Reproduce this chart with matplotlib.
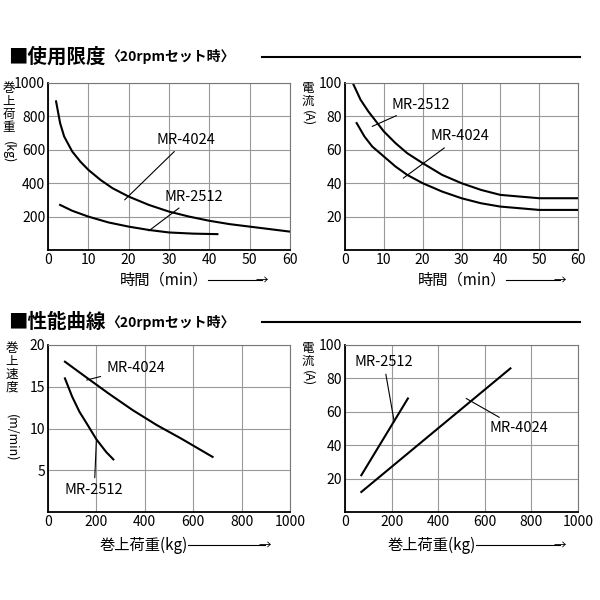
import matplotlib.pyplot as plt

plt.rcParams["font.family"] = "Noto Sans CJK JP"

# data
t4024 = [2, 3, 4, 6, 8, 10, 13, 16, 20, 25, 30, 35, 40, 45, 50, 55, 60]
w4024 = [890, 760, 680, 590, 530, 480, 420, 370, 320, 270, 230, 200, 175,
         155, 140, 125, 110]
t2512 = [3, 6, 10, 15, 20, 25, 30, 36, 42]
w2512 = [270, 235, 200, 165, 140, 120, 105, 98, 95]

ti2512 = [2, 4, 6, 8, 10, 13, 16, 20, 25, 30, 35, 40, 45, 50, 55, 60]
a2512 = [100, 90, 83, 77, 71, 64, 58, 52, 45, 40, 36, 33, 32, 31, 31, 31]
ti4024 = [3, 5, 7, 10, 13, 16, 20, 25, 30, 35, 40, 45, 50, 55, 60]
a4024 = [76, 68, 62, 56, 50, 45, 40, 35, 31, 28, 26, 25, 24, 24, 24]

l4024 = [70, 150, 250, 350, 450, 550, 680]
v4024 = [18, 16.3, 14.2, 12.2, 10.4, 8.8, 6.6]
l2512 = [70, 100, 130, 160, 200, 240, 270]
v2512 = [16, 13.8, 12, 10.6, 8.7, 7.2, 6.3]

la2512 = [70, 270]
c2512 = [22, 68]
la4024 = [70, 710]
c4024 = [12, 86]

W = H = 600
fig = plt.figure(figsize=(6, 6), dpi=100)


def mkax(x0, x1, y0, y1, xlim, ylim, xt, yt):
    ax = fig.add_axes([x0 / W, 1 - y1 / H, (x1 - x0) / W, (y1 - y0) / H])
    ax.set_xlim(*xlim)
    ax.set_ylim(*ylim)
    ax.set_xticks(xt)
    ax.set_yticks(yt)
    ax.grid(True, color="#999999", lw=0.8)
    ax.tick_params(length=0, labelsize=10, pad=2)
    for s in ax.spines.values():
        s.set_color("#777777")
    ax.spines["left"].set_color("black")
    ax.spines["bottom"].set_color("black")
    ax.spines["left"].set_linewidth(1.3)
    ax.spines["bottom"].set_linewidth(1.3)
    return ax


def label(ax, txt, xy, xyt, ha="left"):
    ax.annotate(txt, xy=xy, xytext=xyt, fontsize=10.5, ha=ha, va="center",
                arrowprops=dict(arrowstyle="-", color="black", lw=0.8,
                                shrinkA=2, shrinkB=0))


def vlabel(x, y, txt, unit, uy):
    fig.text(x / W, 1 - y / H, "\n".join(txt), fontsize=9, ha="center",
             va="top", linespacing=1.0)
    fig.text(x / W, 1 - uy / H, unit, fontsize=9, rotation=-90,
             ha="center", va="center")


def xlabel(x, y, txt, x_end):
    fig.text(x / W, 1 - y / H, txt, fontsize=11, ha="left", va="center")
    fig.add_artist(plt.Line2D([(x + 88) / W, x_end / W], [1 - y / H] * 2,
                              color="black", lw=0.8))
    fig.text(x_end / W, 1 - y / H, "→", fontsize=9, ha="center", va="center")


def title(y, txt):
    fig.text(8 / W, 1 - y / H, "■" + txt, fontsize=14, fontweight="bold",
             ha="left", va="center")
    fig.text(106 / W, 1 - y / H, "〈20rpmセット時〉", fontsize=10,
             fontweight="bold", ha="left", va="center")
    fig.add_artist(plt.Line2D([262 / W, 580 / W], [1 - y / H] * 2,
                              color="black", lw=1.5))


title(57, "使用限度")
title(322, "性能曲線")

ax1 = mkax(48, 290, 83, 250, (0, 60), (0, 1000), range(0, 61, 10),
           range(0, 1001, 200))
ax1.set_yticklabels(["", "200", "400", "600", "800", "1000"])
ax1.plot(t4024, w4024, color="black", lw=1.5)
ax1.plot(t2512, w2512, color="black", lw=1.5)
label(ax1, "MR-4024", (19, 300), (27, 660))
label(ax1, "MR-2512", (25, 115), (29, 320))

ax2 = mkax(345, 578, 83, 250, (0, 60), (0, 100), range(0, 61, 10),
           range(0, 101, 20))
ax2.set_yticklabels(["", "20", "40", "60", "80", "100"])
ax2.plot(ti2512, a2512, color="black", lw=1.5)
ax2.plot(ti4024, a4024, color="black", lw=1.5)
label(ax2, "MR-2512", (7, 74), (12, 87))
label(ax2, "MR-4024", (15, 43), (22, 68))

ax3 = mkax(48, 290, 345, 512, (0, 1000), (0, 20), range(0, 1001, 200),
           range(0, 21, 5))
ax3.set_yticklabels(["", "5", "10", "15", "20"])
ax3.plot(l4024, v4024, color="black", lw=1.5)
ax3.plot(l2512, v2512, color="black", lw=1.5)
label(ax3, "MR-4024", (160, 15.8), (240, 17.3))
label(ax3, "MR-2512", (200, 8.7), (70, 2.6))

ax4 = mkax(345, 578, 345, 512, (0, 1000), (0, 100), range(0, 1001, 200),
           range(0, 101, 20))
ax4.set_yticklabels(["", "20", "40", "60", "80", "100"])
ax4.plot(la2512, c2512, color="black", lw=1.5)
ax4.plot(la4024, c4024, color="black", lw=1.5)
label(ax4, "MR-2512", (210, 55), (40, 90))
label(ax4, "MR-4024", (520, 68), (620, 50))

vlabel(9, 82, "巻上荷重", "(kg)", 152)
vlabel(308, 82, "電流", "(A)", 118)
vlabel(12, 342, "巻上速度", "(m/min)", 438)
vlabel(308, 342, "電流", "(A)", 378)

xlabel(120, 280, "時間（min）", 262)
xlabel(418, 280, "時間（min）", 560)
xlabel(100, 545, "巻上荷重(kg)", 265)
xlabel(388, 545, "巻上荷重(kg)", 560)

fig.savefig("out.png", dpi=100)
